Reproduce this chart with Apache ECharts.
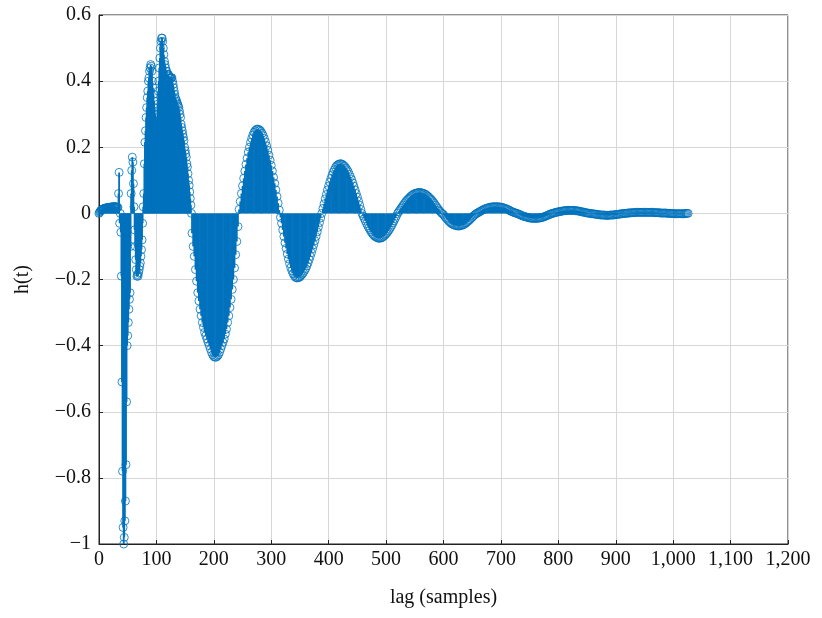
<!DOCTYPE html>
<html>
<head>
<meta charset="utf-8">
<title>h(t)</title>
<script src="https://cdn.jsdelivr.net/npm/echarts@6/dist/echarts.min.js"></script>
<style>
  html, body { margin: 0; padding: 0; background: #fff; }
  #chart { width: 822px; height: 618px; }
</style>
</head>
<body>
<div id="chart"></div>
<script>
// lags 0..161, one value per sample
const earlyStart = 0;
const earlyStep = 1;
const earlyValues = [
  0, 0.003, 0.006, 0.008, 0.010, 0.011, 0.012, 0.013, 0.014, 0.015,
  0.015, 0.016, 0.016, 0.017, 0.017, 0.017, 0.018, 0.018, 0.018, 0.018,
  0.019, 0.019, 0.019, 0.019, 0.020, 0.020, 0.020, 0.020, 0.020, 0.020,
  0.019, 0.019, 0.018, 0.018,
  0.06, 0.124, -0.03, 0.0, -0.057, -0.19, -0.51, -0.78, -0.95, -1.0,
  -0.98, -0.93, -0.87, -0.76, -0.57, -0.40, -0.37, -0.33, -0.29, -0.26,
  -0.24, -0.10, 0.06, 0.13, 0.17, 0.155, 0.09, 0.02, -0.05, -0.10,
  -0.14, -0.17, -0.19, -0.185, -0.19, -0.18, -0.17, -0.16, -0.15, -0.13,
  -0.11, -0.08, -0.03,
  0.02, 0.06, 0.15, 0.215, 0.25, 0.29, 0.32, 0.35, 0.37, 0.40,
  0.41, 0.43, 0.44, 0.45, 0.445, 0.43, 0.40, 0.38, 0.36, 0.34,
  0.32, 0.30, 0.28, 0.27, 0.29, 0.33, 0.37, 0.40, 0.44, 0.47,
  0.50, 0.52, 0.53, 0.53, 0.52, 0.50, 0.48, 0.46, 0.45, 0.44,
  0.43, 0.43, 0.42, 0.42, 0.42, 0.415, 0.41, 0.41, 0.41, 0.41,
  0.41, 0.40, 0.39, 0.38, 0.37, 0.36, 0.35, 0.345, 0.34, 0.335,
  0.33, 0.325, 0.32, 0.31, 0.30, 0.29, 0.27, 0.26, 0.25, 0.24,
  0.23, 0.22, 0.20, 0.19, 0.18, 0.17, 0.15, 0.14, 0.12, 0.10,
  0.085, 0.065, 0.045, 0.025, 0.0
];

// lags 162..498, every 2nd sample
const midStart = 162;
const midStep = 2;
const midValues = [
  -0.06, -0.10, -0.13, -0.17, -0.205, -0.24, -0.265, -0.29, -0.31, -0.33,
  -0.345, -0.36, -0.37, -0.38, -0.39, -0.40, -0.41, -0.42, -0.428, -0.433,
  -0.435, -0.435, -0.432, -0.428, -0.42, -0.41, -0.40, -0.39, -0.38, -0.365,
  -0.35, -0.33, -0.31, -0.285, -0.26, -0.23, -0.20, -0.165, -0.125, -0.085,
  -0.04,
  0.012, 0.036, 0.06, 0.083, 0.106, 0.128, 0.148, 0.167, 0.185, 0.2,
  0.215, 0.227, 0.237, 0.245, 0.25, 0.254, 0.255, 0.254, 0.252, 0.248,
  0.242, 0.235, 0.226, 0.216, 0.204, 0.191, 0.176, 0.161, 0.145, 0.128,
  0.109, 0.091, 0.071, 0.051, 0.031, 0.01,
  -0.012, -0.03, -0.05, -0.07, -0.089, -0.106, -0.123, -0.138, -0.152, -0.164,
  -0.174, -0.182, -0.188, -0.193, -0.195, -0.195, -0.194, -0.192, -0.188, -0.184,
  -0.179, -0.173, -0.167, -0.159, -0.15, -0.14, -0.13, -0.119, -0.107, -0.095,
  -0.083, -0.07, -0.056, -0.042, -0.028, -0.014, 0.0,
  0.015, 0.029, 0.044, 0.057, 0.071, 0.083, 0.095, 0.106, 0.116, 0.125,
  0.132, 0.139, 0.144, 0.147, 0.149, 0.15, 0.15, 0.148, 0.145, 0.142,
  0.137, 0.132, 0.126, 0.118, 0.11, 0.102, 0.092, 0.082, 0.071, 0.06,
  0.049, 0.037, 0.025, 0.012, 0.0,
  -0.008, -0.016, -0.023, -0.031, -0.038, -0.044, -0.05, -0.056, -0.061, -0.065,
  -0.069, -0.071, -0.073, -0.075, -0.075, -0.075, -0.074, -0.072, -0.069, -0.066
];

// lags 500..1024, every 2nd sample
const tailStart = 500;
const tailStep = 2;
const tailValues = [
  -0.062, -0.058, -0.053, -0.048, -0.042, -0.036, -0.029, -0.022, -0.015, -0.008, 0.0,
  0.005, 0.010, 0.015, 0.020, 0.025, 0.030, 0.035, 0.039, 0.043, 0.046,
  0.050, 0.053, 0.056, 0.058, 0.060, 0.061, 0.062, 0.063, 0.063, 0.063,
  0.062, 0.061, 0.060, 0.058, 0.056, 0.053, 0.050, 0.046, 0.043, 0.039,
  0.035, 0.030, 0.025, 0.020, 0.015, 0.010, 0.006, 0.002, -0.001,
  -0.004, -0.009, -0.013, -0.017, -0.021, -0.025, -0.028, -0.031, -0.033, -0.035,
  -0.036, -0.037, -0.038, -0.038, -0.038, -0.037, -0.036, -0.035, -0.033, -0.031,
  -0.028, -0.025, -0.022, -0.019, -0.015, -0.012, -0.008, -0.005, -0.002, 0.0,
  0.002, 0.004, 0.006, 0.008, 0.010, 0.012, 0.013, 0.015, 0.016, 0.017,
  0.018, 0.019, 0.019, 0.020, 0.020, 0.020, 0.020, 0.020, 0.020, 0.019,
  0.019, 0.018, 0.017, 0.016, 0.015, 0.013, 0.012, 0.010, 0.008, 0.006,
  0.005, 0.003, 0.002, 0.001, 0.0,
  -0.002, -0.003, -0.005, -0.006, -0.008, -0.009, -0.010, -0.011, -0.012, -0.013,
  -0.014, -0.014, -0.015, -0.015, -0.015, -0.015, -0.015, -0.015, -0.014, -0.014,
  -0.013, -0.012, -0.011, -0.010, -0.008, -0.007, -0.005, -0.004, -0.002, -0.001, 0.0,
  0.001, 0.002, 0.003, 0.004, 0.005, 0.005, 0.006, 0.007, 0.007, 0.008,
  0.008, 0.009, 0.009, 0.009, 0.009, 0.009, 0.009, 0.009, 0.009, 0.008,
  0.008, 0.007, 0.007, 0.006, 0.005, 0.004, 0.004, 0.003, 0.002, 0.001,
  0.001, 0.0,
  0.0, -0.001, -0.001, -0.002, -0.002, -0.003, -0.003, -0.004, -0.004, -0.005,
  -0.005, -0.005, -0.005, -0.006, -0.006, -0.006, -0.006, -0.005, -0.005, -0.005,
  -0.005, -0.004, -0.004, -0.003, -0.003, -0.002, -0.002, -0.001, -0.001, 0.0,
  0.0, 0.0, 0.001, 0.001, 0.001, 0.002, 0.002, 0.002, 0.002, 0.003,
  0.003, 0.003, 0.003, 0.003, 0.003, 0.003, 0.003, 0.003, 0.003, 0.003,
  0.003, 0.003, 0.003, 0.003, 0.003, 0.003, 0.002, 0.002, 0.002, 0.002,
  0.002, 0.001, 0.001, 0.001, 0.001, 0.001, 0.001, 0.0, 0.0, 0.0,
  0.0, 0.0, -0.001, -0.001, -0.001, -0.001, -0.001, -0.001, -0.001, -0.001,
  -0.001, -0.001, -0.001, 0.0, 0.0, 0.0
];

const xTicks = { min: 0, max: 1200, interval: 100 };
const yTicks = { min: -1, max: 0.6, interval: 0.2 };

function segment(start, step, values) {
  return values.map((v, i) => [start + i * step, v]);
}

const points = []
  .concat(segment(earlyStart, earlyStep, earlyValues))
  .concat(segment(midStart, midStep, midValues))
  .concat(segment(tailStart, tailStep, tailValues));

const blue = '#0072bd';
const font = '"Liberation Serif", "DejaVu Serif", serif';

let chart = echarts.init(document.getElementById('chart'));
chart.setOption({
  animation: false,
  backgroundColor: '#fff',
  grid: {
    left: 99,
    right: 34,
    top: 15,
    bottom: 74,
    show: true,
    borderColor: '#222',
    borderWidth: 1
  },
  xAxis: {
    type: 'value',
    min: xTicks.min,
    max: xTicks.max,
    interval: xTicks.interval,
    name: 'lag (samples)',
    nameLocation: 'middle',
    nameGap: 44,
    nameTextStyle: { fontFamily: font, fontSize: 20, color: '#111' },
    axisLine: { show: true, onZero: false, lineStyle: { color: '#222' } },
    axisTick: { show: true, inside: true, length: 4, lineStyle: { color: '#222' } },
    axisLabel: {
      fontFamily: font, fontSize: 20, color: '#111', margin: 6,
      formatter: function (v) { return v.toLocaleString('en-US'); }
    },
    splitLine: { show: true, lineStyle: { color: '#d6d6d6', width: 1 } }
  },
  yAxis: {
    type: 'value',
    min: yTicks.min,
    max: yTicks.max,
    interval: yTicks.interval,
    name: 'h(t)',
    nameLocation: 'middle',
    nameGap: 66,
    nameTextStyle: { fontFamily: font, fontSize: 20, color: '#111' },
    axisLine: { show: true, lineStyle: { color: '#222' } },
    axisTick: { show: true, inside: true, length: 4, lineStyle: { color: '#222' } },
    axisLabel: {
      fontFamily: font, fontSize: 20, color: '#111', margin: 8,
      formatter: function (v) {
        let r = Math.round(v * 10) / 10;
        if (r === 0) return '0';
        return String(r).replace('-', '\u2212');
      }
    },
    splitLine: { show: true, lineStyle: { color: '#d6d6d6', width: 1 } }
  },
  series: [
    {
      name: 'stems',
      type: 'custom',
      z: 1,
      clip: true,
      data: points,
      encode: { x: 0, y: 1 },
      renderItem: function (params, api) {
        let top = api.coord([api.value(0), api.value(1)]);
        let base = api.coord([api.value(0), 0]);
        return {
          type: 'line',
          shape: { x1: top[0], y1: base[1], x2: top[0], y2: top[1] },
          style: { stroke: blue, lineWidth: 1.8 }
        };
      }
    },
    {
      name: 'h(t)',
      type: 'scatter',
      z: 2,
      data: points,
      symbol: 'circle',
      symbolSize: 8,
      itemStyle: { color: 'rgba(0,0,0,0)', borderColor: blue, borderWidth: 1 },
      emphasis: { disabled: true }
    }
  ]
});
</script>
</body>
</html>
